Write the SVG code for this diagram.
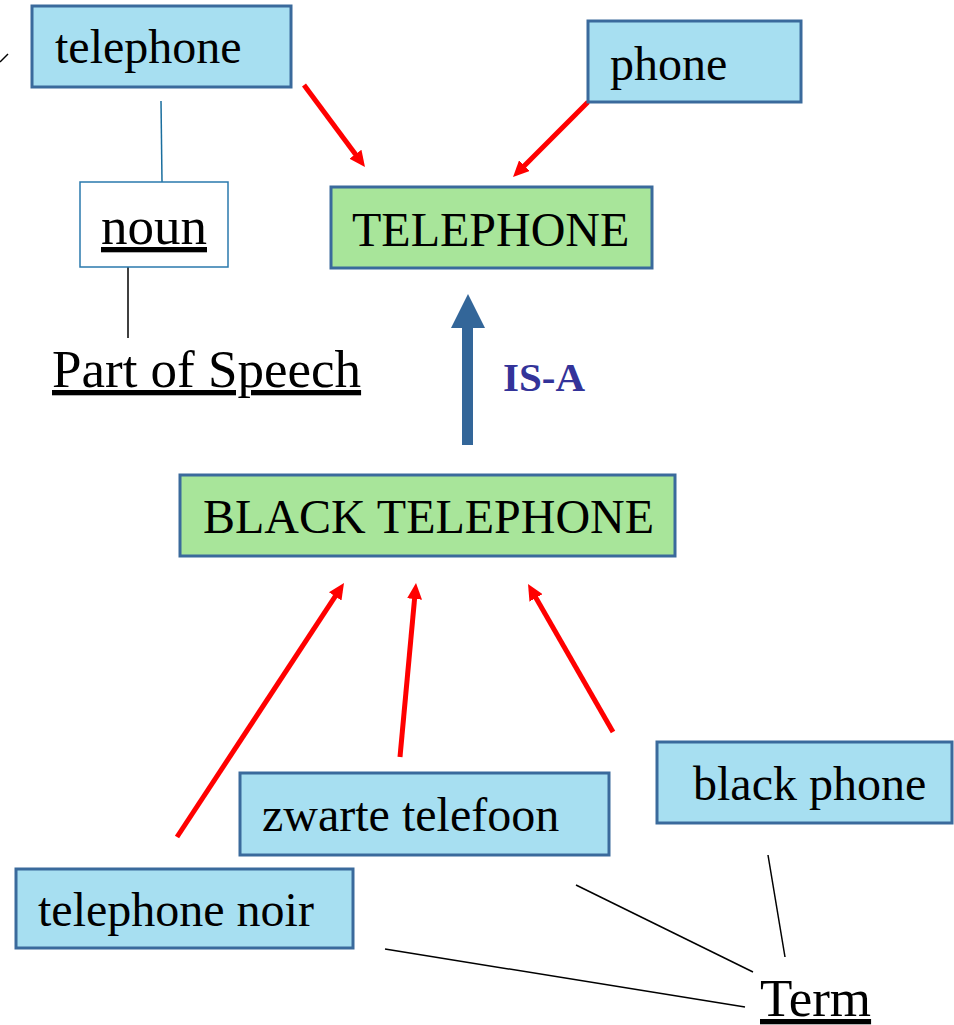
<svg xmlns="http://www.w3.org/2000/svg" width="954" height="1025" viewBox="0 0 954 1025">
<style>
  .box rect { stroke: #3a6a9c; stroke-width: 3; }
  .blue rect { fill: #a7dff1; }
  .green rect { fill: #a8e59a; }
  .t { font-family: "Liberation Serif", "Times New Roman", serif; font-size: 48px; fill: #000; }
  .u { font-family: "Liberation Serif", "Times New Roman", serif; font-size: 53px; fill: #000; text-decoration: underline; }
  .red { stroke: #ff0000; stroke-width: 5; fill: none; marker-end: url(#redhead); }
  .thin { stroke: #000; stroke-width: 1.5; fill: none; }
</style>
<defs>
  <marker id="redhead" markerUnits="userSpaceOnUse" markerWidth="16" markerHeight="15" viewBox="0 0 16 15" refX="6" refY="7.5" orient="auto">
    <path d="M0,0 L16,7.5 L0,15 z" fill="#ff0000"/>
  </marker>
</defs>

<g id="connectors">
  <line class="thin" x1="0" y1="62" x2="8" y2="54"/>
  <line x1="161" y1="101" x2="162" y2="182" stroke="#1a6e9e" stroke-width="1.5"/>
  <line class="thin" x1="128" y1="267" x2="128" y2="338"/>
  <line class="red" x1="304" y1="85" x2="359" y2="159"/>
  <line class="red" x1="588" y1="102" x2="520.1" y2="169.9"/>
  <line class="red" x1="177" y1="837" x2="338.5" y2="591.4"/>
  <line class="red" x1="400" y1="757" x2="415.1" y2="593"/>
  <line class="red" x1="613" y1="732" x2="533" y2="592.7"/>
  <g id="isa-arrow">
    <rect x="462" y="327" width="11" height="118" fill="#336699"/>
    <polygon points="451,328 485,328 468,294" fill="#336699"/>
    <text x="503" y="391" font-family="Liberation Serif, Times New Roman, serif" font-size="41" font-weight="bold" fill="#333399">IS-A</text>
  </g>
  <line class="thin" x1="385" y1="949" x2="745" y2="1007"/>
  <line class="thin" x1="576" y1="885" x2="753" y2="972"/>
  <line class="thin" x1="768" y1="855" x2="785" y2="957"/>
</g>

<g id="node-telephone" class="box blue">
  <rect x="32" y="6" width="259" height="81"/>
  <text class="t" x="55" y="63">telephone</text>
</g>
<g id="node-phone" class="box blue">
  <rect x="588" y="21" width="213" height="81"/>
  <text class="t" x="610" y="80">phone</text>
</g>
<g id="node-TELEPHONE" class="box green">
  <rect x="331" y="187" width="321" height="81"/>
  <text class="t" x="352" y="246">TELEPHONE</text>
</g>
<g id="node-noun">
  <rect x="80" y="182" width="148" height="85" fill="#ffffff" stroke="#2a79ad" stroke-width="1.5"/>
  <text class="u" x="101" y="244">noun</text>
</g>
<g id="label-part-of-speech">
  <text class="u" x="52" y="387">Part of Speech</text>
</g>
<g id="node-BLACK-TELEPHONE" class="box green">
  <rect x="180" y="475" width="495" height="81"/>
  <text class="t" x="203" y="533">BLACK TELEPHONE</text>
</g>
<g id="node-zwarte-telefoon" class="box blue">
  <rect x="240" y="773" width="369" height="82"/>
  <text class="t" x="262" y="831">zwarte telefoon</text>
</g>
<g id="node-black-phone" class="box blue">
  <rect x="657" y="742" width="295" height="81"/>
  <text class="t" x="693" y="800">black phone</text>
</g>
<g id="node-telephone-noir" class="box blue">
  <rect x="16" y="869" width="337" height="79"/>
  <text class="t" x="38" y="926">telephone noir</text>
</g>
<g id="label-term">
  <text class="u" x="760" y="1016">Term</text>
</g>
</svg>
